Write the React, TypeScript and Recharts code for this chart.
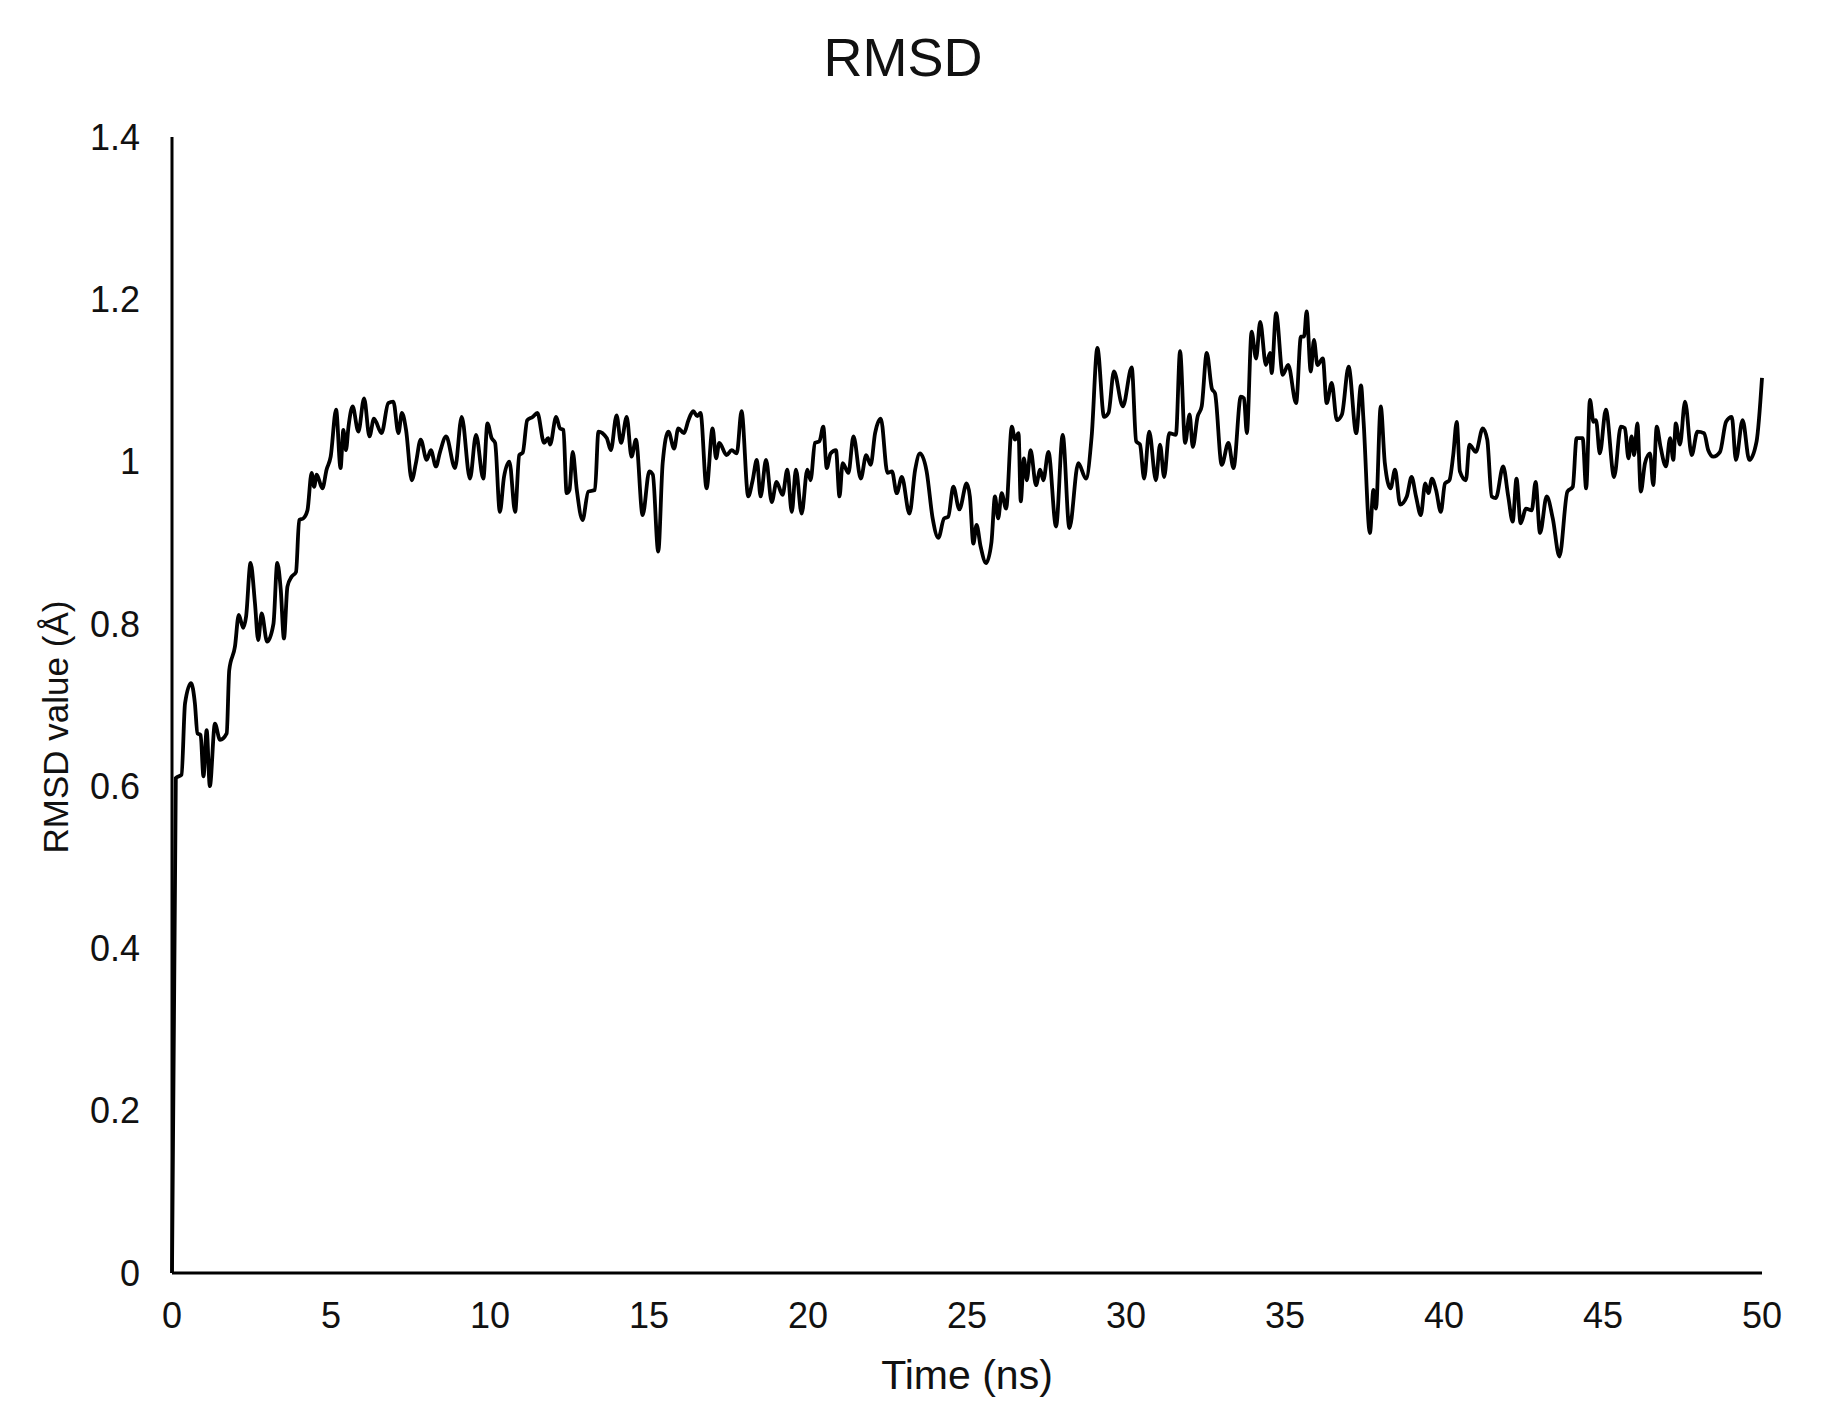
import { Line, LineChart, XAxis, YAxis } from "recharts"

const chartTitle = "RMSD"
const xAxisTitle = "Time (ns)"
const yAxisTitle = "RMSD value (Å)"

const timeNs = [
  0, 0.12, 0.3, 0.41, 0.6, 0.72, 0.8, 0.9, 0.99, 1.09, 1.19, 1.35, 1.51, 1.72, 1.8, 1.98,
  2.1, 2.24, 2.33, 2.47, 2.61, 2.71, 2.82, 2.99, 3.19, 3.31, 3.42, 3.52, 3.63, 3.76, 3.9,
  4.0, 4.13, 4.26, 4.39, 4.47, 4.55, 4.73, 4.86, 4.99, 5.16, 5.3, 5.39, 5.47, 5.55, 5.68,
  5.86, 6.04, 6.21, 6.35, 6.59, 6.8, 6.96, 7.12, 7.23, 7.36, 7.54, 7.67, 7.82, 8.01, 8.14,
  8.3, 8.43, 8.62, 8.9, 9.11, 9.37, 9.56, 9.79, 9.92, 10.05, 10.16, 10.31, 10.44, 10.61,
  10.79, 10.92, 11.03, 11.17, 11.34, 11.49, 11.7, 11.83, 11.89, 12.08, 12.2, 12.31, 12.41,
  12.5, 12.6, 12.73, 12.91, 13.09, 13.3, 13.41, 13.67, 13.8, 13.98, 14.12, 14.3, 14.45,
  14.59, 14.8, 15.01, 15.12, 15.29, 15.43, 15.61, 15.79, 15.92, 16.1, 16.24, 16.39, 16.52,
  16.62, 16.81, 17.0, 17.11, 17.21, 17.44, 17.6, 17.76, 17.91, 18.12, 18.26, 18.39, 18.51,
  18.68, 18.86, 19.01, 19.2, 19.35, 19.49, 19.62, 19.8, 19.98, 20.08, 20.22, 20.36, 20.48,
  20.59, 20.71, 20.88, 20.99, 21.09, 21.27, 21.43, 21.66, 21.83, 21.97, 22.11, 22.29, 22.5,
  22.64, 22.79, 22.95, 23.19, 23.37, 23.52, 23.73, 23.92, 24.1, 24.28, 24.41, 24.57, 24.76,
  24.99, 25.09, 25.2, 25.3, 25.43, 25.6, 25.77, 25.88, 25.98, 26.09, 26.23, 26.41, 26.51,
  26.62, 26.69, 26.79, 26.88, 27.0, 27.17, 27.3, 27.4, 27.56, 27.8, 28.01, 28.22, 28.5,
  28.74, 28.92, 29.1, 29.31, 29.45, 29.62, 29.9, 30.18, 30.32, 30.44, 30.57, 30.73, 30.94,
  31.07, 31.2, 31.36, 31.57, 31.7, 31.86, 32.0, 32.1, 32.25, 32.38, 32.54, 32.7, 32.8,
  33.01, 33.22, 33.38, 33.61, 33.71, 33.8, 33.95, 34.09, 34.22, 34.4, 34.53, 34.58, 34.72,
  34.93, 35.1, 35.35, 35.5, 35.6, 35.68, 35.81, 35.91, 36.02, 36.19, 36.31, 36.47, 36.63,
  36.79, 37.0, 37.24, 37.39, 37.47, 37.67, 37.78, 37.86, 38.01, 38.14, 38.32, 38.46, 38.62,
  38.83, 38.98, 39.12, 39.27, 39.41, 39.51, 39.62, 39.75, 39.9, 40.03, 40.17, 40.29, 40.4,
  40.5, 40.69, 40.8, 41.0, 41.22, 41.36, 41.5, 41.63, 41.86, 42.02, 42.16, 42.28, 42.41,
  42.58, 42.76, 42.88, 43.02, 43.23, 43.42, 43.63, 43.88, 44.05, 44.17, 44.36, 44.47, 44.59,
  44.7, 44.78, 44.9, 45.09, 45.35, 45.56, 45.69, 45.8, 45.9, 45.98, 46.08, 46.19, 46.32,
  46.48, 46.58, 46.69, 46.81, 46.98, 47.11, 47.21, 47.29, 47.42, 47.58, 47.79, 47.97, 48.18,
  48.31, 48.47, 48.68, 48.87, 49.05, 49.18, 49.39, 49.6, 49.83, 50.0,
]

const rmsdValues = [
  0, 0.61, 0.614, 0.702, 0.727, 0.702, 0.665, 0.663, 0.612, 0.669, 0.6, 0.677, 0.657, 0.665,
  0.743, 0.772, 0.811, 0.795, 0.809, 0.875, 0.825, 0.78, 0.813, 0.778, 0.8, 0.875, 0.842,
  0.782, 0.846, 0.858, 0.864, 0.928, 0.93, 0.94, 0.986, 0.969, 0.984, 0.967, 0.99, 1.006,
  1.064, 0.992, 1.039, 1.014, 1.043, 1.068, 1.037, 1.078, 1.031, 1.053, 1.035, 1.072, 1.074,
  1.035, 1.06, 1.039, 0.977, 0.998, 1.027, 1.002, 1.014, 0.994, 1.012, 1.031, 0.992, 1.055,
  0.979, 1.033, 0.979, 1.047, 1.029, 1.023, 0.938, 0.981, 1.0, 0.938, 1.008, 1.011, 1.051,
  1.055, 1.06, 1.023, 1.029, 1.021, 1.055, 1.041, 1.039, 0.961, 0.965, 1.012, 0.965, 0.928,
  0.963, 0.965, 1.037, 1.029, 1.014, 1.057, 1.023, 1.055, 1.006, 1.027, 0.934, 0.988, 0.984,
  0.889, 0.998, 1.037, 1.016, 1.041, 1.035, 1.051, 1.062, 1.056, 1.06, 0.967, 1.041, 1.004,
  1.023, 1.008, 1.014, 1.01, 1.062, 0.957, 0.977, 1.002, 0.957, 1.002, 0.95, 0.975, 0.959,
  0.99, 0.938, 0.99, 0.936, 0.99, 0.977, 1.023, 1.025, 1.043, 0.992, 1.01, 1.014, 0.957,
  0.998, 0.986, 1.031, 0.979, 1.008, 0.996, 1.035, 1.053, 0.986, 0.988, 0.961, 0.981, 0.936,
  0.99, 1.01, 0.988, 0.93, 0.906, 0.93, 0.932, 0.969, 0.941, 0.973, 0.957, 0.899, 0.922,
  0.895, 0.875, 0.901, 0.957, 0.93, 0.961, 0.942, 1.043, 1.027, 1.035, 0.951, 1.004, 0.977,
  1.014, 0.971, 0.99, 0.977, 1.012, 0.92, 1.033, 0.918, 0.998, 0.979, 1.031, 1.14, 1.055,
  1.06, 1.111, 1.068, 1.116, 1.025, 1.021, 0.979, 1.037, 0.977, 1.021, 0.981, 1.035, 1.033,
  1.136, 1.023, 1.058, 1.018, 1.055, 1.068, 1.134, 1.09, 1.084, 0.996, 1.023, 0.992, 1.08,
  1.078, 1.035, 1.16, 1.127, 1.172, 1.119, 1.134, 1.109, 1.183, 1.107, 1.119, 1.072, 1.154,
  1.154, 1.185, 1.111, 1.15, 1.119, 1.127, 1.072, 1.097, 1.051, 1.058, 1.117, 1.035, 1.094,
  1.05, 0.912, 0.965, 0.942, 1.068, 0.998, 0.967, 0.99, 0.947, 0.957, 0.981, 0.957, 0.934,
  0.973, 0.961, 0.979, 0.965, 0.938, 0.973, 0.977, 1.008, 1.049, 0.988, 0.977, 1.021, 1.012,
  1.041, 1.027, 0.957, 0.955, 0.994, 0.957, 0.926, 0.979, 0.924, 0.942, 0.94, 0.975, 0.912,
  0.957, 0.93, 0.883, 0.963, 0.969, 1.029, 1.029, 0.967, 1.076, 1.049, 1.051, 1.01, 1.064,
  0.981, 1.043, 1.041, 1.004, 1.031, 1.008, 1.047, 0.963, 0.998, 1.01, 0.971, 1.043, 1.018,
  0.994, 1.029, 1.002, 1.047, 1.021, 1.074, 1.008, 1.037, 1.035, 1.014, 1.006, 1.012, 1.049,
  1.055, 1.002, 1.051, 1.002, 1.025, 1.103,
]

const xTicks = [0, 5, 10, 15, 20, 25, 30, 35, 40, 45, 50]
const yTicks = [0, 0.2, 0.4, 0.6, 0.8, 1, 1.2, 1.4]

const fontStack = '"Liberation Sans", Arial, sans-serif'
const ink = "#111"

// rotated y title, centred a little below the middle of the axis like the original
function YTitle({ viewBox }: any) {
  if (!viewBox) return null
  const cx = viewBox.x + 55
  const cy = viewBox.y + viewBox.height / 2 + 22
  return (
    <text
      x={cx}
      y={cy}
      transform={`rotate(-90, ${cx}, ${cy})`}
      textAnchor="middle"
      dominantBaseline="central"
      fontSize={35}
      fill={ink}
    >
      {yAxisTitle}
    </text>
  )
}

export default function App() {
  const chartData = timeNs.map((time, i) => ({ time, rmsd: rmsdValues[i] }))

  return (
    <div
      style={{
        position: "absolute",
        left: 0,
        top: 0,
        width: 1836,
        height: 1415,
        background: "#fff",
        fontFamily: fontStack,
      }}
    >
      <div
        style={{
          position: "absolute",
          left: 0,
          top: 30,
          width: 1806,
          textAlign: "center",
          fontSize: 54,
          lineHeight: "54px",
          color: ink,
        }}
      >
        {chartTitle}
      </div>
      <LineChart
        width={1836}
        height={1415}
        data={chartData}
        margin={{ top: 137, right: 74, bottom: 0, left: 0 }}
      >
        <XAxis
          dataKey="time"
          type="number"
          domain={[0, 50]}
          ticks={xTicks}
          interval={0}
          height={142}
          tickLine={false}
          tickSize={0}
          tickMargin={29}
          axisLine={{ stroke: "#000", strokeWidth: 3 }}
          tick={{ fontSize: 36, fill: ink }}
          label={{
            value: xAxisTitle,
            position: "insideBottom",
            offset: 26,
            fontSize: 41,
            fill: ink,
          }}
        />
        <YAxis
          type="number"
          domain={[0, 1.4]}
          ticks={yTicks}
          interval={0}
          width={172}
          tickLine={false}
          tickSize={0}
          tickMargin={32}
          tickFormatter={(v) => String(v)}
          axisLine={{ stroke: "#000", strokeWidth: 3 }}
          tick={{ fontSize: 36, fill: ink }}
          label={{ content: YTitle }}
        />
        <Line
          type="monotone"
          dataKey="rmsd"
          stroke="#000"
          strokeWidth={3.8}
          dot={false}
          isAnimationActive={false}
        />
      </LineChart>
    </div>
  )
}
